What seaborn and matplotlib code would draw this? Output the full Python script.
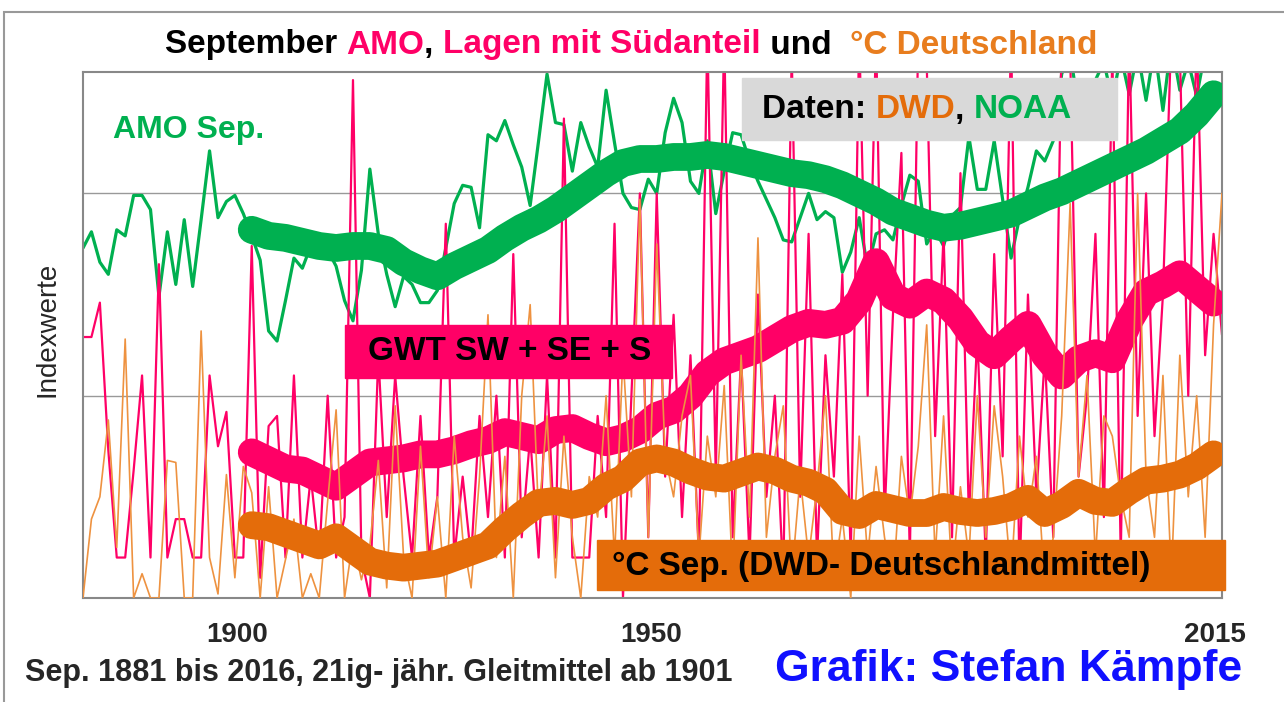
import numpy as np
import pandas as pd
import seaborn as sns
import matplotlib.pyplot as plt
from matplotlib.patches import Rectangle

# September values 1881-2016 (index units)
years = np.arange(1881, 2017)
amo = [17.3, 18.1, 16.6, 16.0, 18.2, 17.9, 19.9, 19.9, 19.2, 14.9,
       18.1, 15.5, 18.7, 15.4, 18.7, 22.1, 18.8, 19.6, 19.9, 19.0,
       17.9, 16.7, 13.2, 12.7, 14.7, 16.8, 16.3, 17.4, 17.7, 17.2,
       16.4, 14.7, 13.7, 16.2, 21.2, 18.0, 16.0, 14.4, 15.9, 15.5,
       14.6, 14.6, 15.2, 17.3, 19.5, 20.4, 20.3, 18.3, 22.9, 22.6,
       23.6, 22.4, 21.3, 19.4, 22.6, 25.9, 23.5, 23.4, 21.1, 23.5,
       22.3, 21.3, 25.1, 22.5, 20.0, 19.3, 19.2, 20.7, 20.0, 23.0,
       24.7, 23.5, 20.6, 20.0, 22.6, 19.0, 21.1, 23.0, 22.9, 21.6,
       20.6, 19.7, 18.8, 17.7, 17.6, 18.8, 20.0, 18.7, 19.1, 18.8,
       16.1, 17.1, 18.8, 16.3, 18.0, 18.2, 17.7, 19.4, 20.9, 20.6,
       17.5, 18.2, 17.4, 18.9, 19.3, 22.8, 20.2, 20.2, 22.6, 19.7,
       16.8, 18.8, 20.3, 22.1, 21.6, 22.6, 25.9, 27.0, 24.1, 23.1,
       25.6, 26.5, 24.6, 26.8, 24.9, 27.0, 24.6, 27.2, 24.1, 27.5,
       25.1, 26.5, 24.8, 27.0, 28.0, 27.0]
gwt = [12.9, 12.9, 14.6, 7.3, 2.0, 2.0, 6.3, 11.0, 2.0, 16.5,
       2.0, 3.9, 3.9, 2.0, 2.0, 11.0, 7.5, 9.2, 2.0, 2.0,
       17.4, 1.0, 8.5, 9.0, 2.0, 11.0, 2.0, 6.0, 2.0, 10.0,
       2.0, 4.0, 25.6, 2.0, 0.0, 12.0, 4.0, 11.0, 6.0, 2.0,
       9.0, 2.0, 5.0, 18.5, 2.0, 6.0, 2.0, 9.0, 4.0, 10.0,
       2.0, 17.0, 3.0, 8.0, 2.0, 11.0, 2.0, 23.7, 2.0, 2.0,
       2.0, 9.0, 4.0, 18.5, 0.0, 10.0, 20.0, 3.0, 20.0, 6.0,
       14.0, 4.0, 12.0, 2.0, 28.0, 6.0, 28.0, 3.0, 12.0, 2.0,
       15.0, 5.0, 10.0, 1.0, 27.0, 5.0, 18.0, 2.0, 12.0, 6.0,
       16.0, 2.0, 28.0, 10.0, 28.0, 4.0, 14.0, 22.0, 2.0, 28.0,
       26.5, 8.0, 18.0, 3.0, 21.0, 4.0, 13.0, 2.0, 17.0, 7.0,
       28.0, 1.0, 15.0, 5.0, 12.0, 3.0, 28.0, 27.0, 6.0, 10.0,
       18.0, 4.0, 27.0, 2.0, 28.0, 9.0, 20.0, 8.0, 15.0, 28.0,
       27.0, 10.0, 28.0, 12.0, 18.0, 13.0]
temp = [0.0, 3.9, 5.0, 8.8, 2.5, 12.8, 0.0, 1.2, 0.0, 0.0,
        6.8, 6.7, 0.0, 0.0, 13.2, 2.0, 0.2, 6.1, 1.0, 6.5,
        5.2, 0.0, 5.5, 0.0, 1.9, 3.9, 0.0, 1.2, 0.0, 4.8,
        9.3, 0.0, 2.9, 0.9, 2.6, 6.8, 0.5, 9.5, 2.0, 0.0,
        7.5, 1.0, 5.0, 0.0, 8.0, 3.0, 0.5, 6.0, 14.0, 2.0,
        7.0, 0.0, 10.0, 14.5, 4.0, 9.0, 1.0, 8.0, 3.0, 0.0,
        6.0, 4.0, 10.0, 2.0, 12.0, 5.0, 19.7, 3.0, 17.5, 7.0,
        5.0, 9.0, 11.0, 2.0, 8.0, 5.0, 10.5, 1.0, 12.0, 4.0,
        17.8, 3.0, 7.0, 9.5, 1.0, 6.0, 2.0, 5.5, 10.0, 1.0,
        4.0, 0.0, 8.0, 2.0, 6.5, 3.0, 0.5, 7.0, 4.0, 7.5,
        13.5, 2.0, 9.0, 1.0, 5.5, 2.0, 10.0, 3.0, 9.5, 6.0,
        1.0, 8.0, 4.0, 7.0, 0.5, 3.0, 9.0, 19.5, 6.0, 11.0,
        2.0, 9.0, 8.0, 5.0, 3.0, 20.0, 6.0, 3.0, 11.0, 1.0,
        12.0, 5.0, 10.0, 3.0, 13.5, 20.0]

# 21-year running means, read every second year from 1901
ma_years = np.arange(1901, 2016, 2)
amo_ma = [18.2, 17.9, 17.8, 17.6, 17.4, 17.3, 17.4, 17.4, 17.2, 16.6,
          16.2, 15.9, 16.4, 16.8, 17.2, 17.8, 18.3, 18.7, 19.2, 19.8,
          20.4, 21.0, 21.5, 21.7, 21.7, 21.8, 21.8, 21.9, 21.8, 21.6,
          21.4, 21.2, 21.0, 20.9, 20.7, 20.4, 20.0, 19.6, 19.1, 18.8,
          18.5, 18.3, 18.4, 18.6, 18.8, 19.0, 19.4, 19.8, 20.1, 20.5,
          20.9, 21.3, 21.7, 22.1, 22.6, 23.1, 23.9, 24.9]
gwt_ma = [7.2, 6.8, 6.4, 6.3, 5.9, 5.5, 6.1, 6.7, 6.8, 6.9,
          7.1, 7.1, 7.3, 7.6, 7.8, 8.2, 8.0, 7.8, 8.3, 8.4,
          8.0, 7.7, 7.9, 8.3, 9.0, 9.3, 10.0, 11.1, 11.7, 12.0,
          12.3, 12.8, 13.3, 13.6, 13.5, 13.7, 14.7, 16.6, 14.9, 14.5,
          15.1, 14.7, 13.8, 12.6, 12.0, 12.8, 13.5, 12.0, 11.0, 11.8,
          12.1, 11.8, 13.7, 15.1, 15.5, 16.0, 15.3, 14.6]
temp_ma = [3.6, 3.5, 3.2, 2.9, 2.6, 3.0, 2.4, 1.8, 1.6, 1.5,
           1.6, 1.7, 2.0, 2.3, 2.6, 3.4, 4.1, 4.7, 4.8, 4.6,
           4.8, 5.5, 5.9, 6.7, 6.9, 6.7, 6.3, 6.0, 5.9, 6.2,
           6.5, 6.3, 5.9, 5.7, 5.3, 4.3, 4.1, 4.6, 4.4, 4.2,
           4.2, 4.5, 4.3, 4.2, 4.3, 4.5, 4.9, 4.2, 4.6, 5.2,
           4.8, 4.7, 5.3, 5.8, 5.9, 6.1, 6.5, 7.1]

# the category axis of the original puts its labels slightly left of the years
tick_years = [1899.3, 1948.3, 2015.2]
tick_labels = ['1900', '1950', '2015']

green = '#00b050'
pink = '#ff0066'
orange = '#e46c0a'
orange_thin = '#ee9240'

sns.set_style('white')
plt.rcParams['font.family'] = ['Liberation Sans', 'DejaVu Sans']
narrow = ['Liberation Sans Narrow', 'Liberation Sans', 'DejaVu Sans']

W, H = 1284, 702
fig = plt.figure(figsize=(W / 100, H / 100), dpi=100)
ax = fig.add_axes([83 / W, 1 - 598 / H, (1222 - 83) / W, (598 - 72) / H])

raw = pd.DataFrame({'Jahr': years, 'AMO': amo, 'GWT': gwt, 'Temp': temp})
ma = pd.DataFrame({'Jahr': ma_years, 'AMO': amo_ma, 'GWT': gwt_ma, 'Temp': temp_ma})

round_kw = dict(solid_capstyle='round', solid_joinstyle='round')
sns.lineplot(data=raw, x='Jahr', y='AMO', color=green, lw=2.3, ax=ax, zorder=2)
sns.lineplot(data=raw, x='Jahr', y='GWT', color=pink, lw=1.6, ax=ax, zorder=2)
sns.lineplot(data=ma, x='Jahr', y='AMO', color=green, lw=20, ax=ax, zorder=3, **round_kw)
sns.lineplot(data=ma, x='Jahr', y='GWT', color=pink, lw=20, ax=ax, zorder=3, **round_kw)
sns.lineplot(data=raw, x='Jahr', y='Temp', color=orange_thin, lw=1.2, ax=ax, zorder=4)
sns.lineplot(data=ma, x='Jahr', y='Temp', color=orange, lw=20, ax=ax, zorder=5, **round_kw)

ax.set_xlim(1881, 2016)
ax.set_ylim(0, 26)
ax.set_yticks([10, 20])
ax.set_yticklabels([])
ax.grid(axis='y', color='#999999', lw=1)
ax.set_xticks(tick_years)
ax.set_xticklabels(tick_labels, fontsize=20, fontweight='bold')
ax.tick_params(length=0, pad=17)
ax.set_xlabel('')
ax.set_ylabel('')
for s in ax.spines.values():
    s.set_color('#888888')
    s.set_linewidth(1.5)


def fx(px):
    return px / W


def fy(py):
    return 1 - py / H


def colored_text(x, y, parts, **kw):
    renderer = fig.canvas.get_renderer()
    x = fx(x)
    for s, c in parts:
        t = fig.text(x, fy(y), s, color=c, va='center', zorder=6, **kw)
        x += t.get_window_extent(renderer).width / W


def box(x0, y0, x1, y1, color):
    fig.patches.append(Rectangle((fx(x0), fy(y1)), fx(x1 - x0), (y1 - y0) / H,
                                 transform=fig.transFigure, color=color, zorder=5))


# figure frame
fig.patches.append(Rectangle((fx(4), fy(712)), fx(1300), 700 / H, transform=fig.transFigure,
                             fill=False, edgecolor='#999999', lw=1.5))

colored_text(165, 45, [('September ', 'black'), ('AMO', pink), (', ', 'black'),
                       ('Lagen mit Südanteil', pink), (' und  ', 'black'),
                       ('°C Deutschland', '#e87d1e')],
             fontsize=24, fontweight='bold', family=narrow)

fig.text(fx(113), fy(130), 'AMO Sep.', color=green, fontsize=23, fontweight='bold', va='center')

box(742, 78, 1117, 140, '#d9d9d9')
colored_text(762, 110, [('Daten: ', 'black'), ('DWD', orange), (', ', 'black'), ('NOAA', green)],
             fontsize=24, fontweight='bold')

box(345, 325, 672, 378, pink)
fig.text(fx(368), fy(352), 'GWT SW + SE + S', color='black', fontsize=24, fontweight='bold',
         va='center', zorder=6)

box(597, 540, 1225, 590, orange)
fig.text(fx(612), fy(566), '°C Sep. (DWD- Deutschlandmittel)', color='black', fontsize=24,
         fontweight='bold', va='center', zorder=6)

fig.text(fx(48), fy(329), 'Indexwerte', rotation=90, fontsize=20, va='center', ha='center')

fig.text(fx(25), fy(673), 'Sep. 1881 bis 2016, 21ig- jähr. Gleitmittel ab 1901', fontsize=22,
         fontweight='bold', family=narrow, va='center')
fig.text(fx(775), fy(669), 'Grafik: Stefan Kämpfe', color='#1010ff', fontsize=32,
         fontweight='bold', va='center')

fig.savefig('out.png', dpi=100)
